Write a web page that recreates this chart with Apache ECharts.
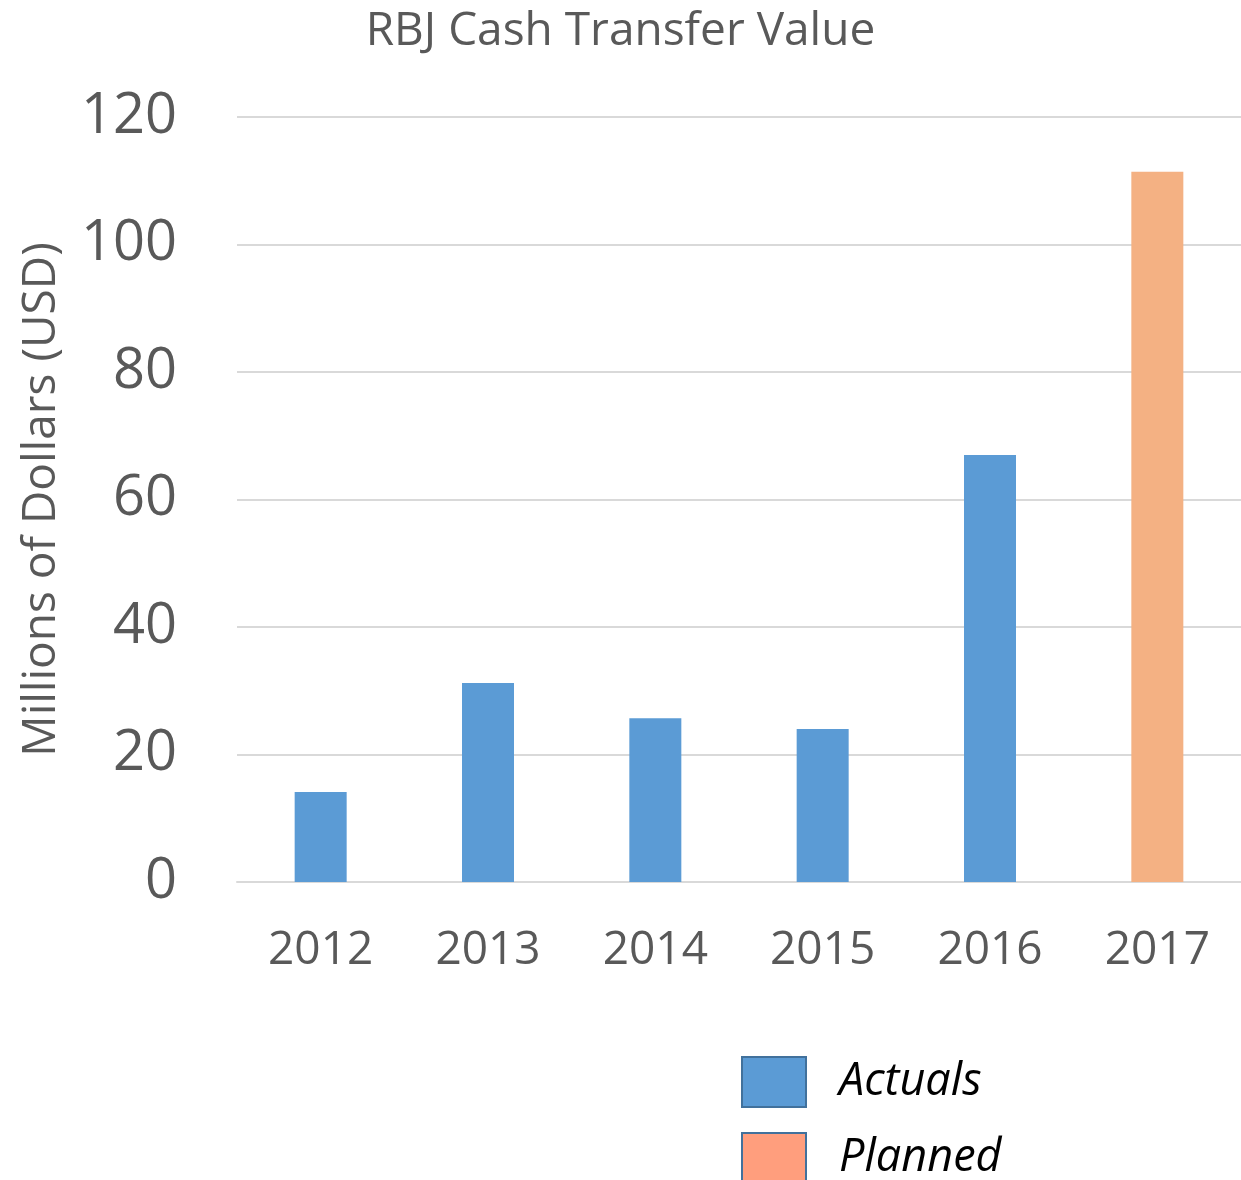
<!DOCTYPE html>
<html>
<head>
<meta charset="utf-8">
<script src="https://cdn.jsdelivr.net/npm/echarts@6/dist/echarts.min.js"></script>
<style>
  html, body { margin: 0; padding: 0; background: #fff; }
  #chart { width: 1241px; height: 1180px; }
</style>
</head>
<body>
<div id="chart"></div>
<script>
// data
const years = ["2012", "2013", "2014", "2015", "2016", "2017"];
const actuals = [14.1, 31.2, 25.7, 24.0, 67.0, null];
const planned = [null, null, null, null, null, 111.4];

const chart = echarts.init(document.getElementById("chart"));

const legendText = {
  fontFamily: "Open Sans, sans-serif",
  fontStyle: "italic",
  fontSize: 45,
  color: "#000",
  padding: [12, 0, 0, 28]
};

const option = {
  animation: false,
  title: {
    text: "RBJ Cash Transfer Value",
    left: "center",
    top: 4,
    textStyle: {
      fontFamily: "Liberation Sans Narrow, Open Sans, sans-serif",
      fontWeight: "normal",
      fontSize: 46,
      color: "#595959"
    }
  },
  legend: [
    {
      left: 736,
      top: 1051,
      icon: "rect",
      itemWidth: 64,
      itemHeight: 50,
      textStyle: legendText,
      data: [{ name: "Actuals", itemStyle: { color: "#5B9BD5", borderColor: "#41719C", borderWidth: 2 } }]
    },
    {
      left: 736,
      top: 1127,
      icon: "rect",
      itemWidth: 64,
      itemHeight: 50,
      textStyle: legendText,
      data: [{ name: "Planned", itemStyle: { color: "#FF9E7D", borderColor: "#41719C", borderWidth: 2 } }]
    }
  ],
  grid: {
    left: 237,
    right: 0,
    top: 117,
    bottom: 298,
    containLabel: false,
    outerBoundsMode: "none"
  },
  xAxis: {
    type: "category",
    data: years,
    axisLine: { lineStyle: { color: "#D9D9D9", width: 2 } },
    axisTick: { show: false },
    axisLabel: {
      margin: 46,
      fontFamily: "Open Sans, sans-serif",
      fontSize: 46,
      color: "#595959"
    }
  },
  yAxis: {
    type: "value",
    min: 0,
    max: 120,
    interval: 20,
    name: "Millions of Dollars (USD)",
    nameLocation: "middle",
    nameRotate: 90,
    nameGap: 172,
    nameTextStyle: {
      fontFamily: "Open Sans, sans-serif",
      fontSize: 46,
      color: "#595959"
    },
    axisLine: { show: false },
    axisTick: { show: false },
    axisLabel: {
      margin: 60,
      fontFamily: "Open Sans, sans-serif",
      fontSize: 56,
      color: "#595959"
    },
    splitLine: { lineStyle: { color: "#D9D9D9", width: 2 } }
  },
  series: [
    {
      name: "Actuals",
      type: "bar",
      stack: "total",
      barWidth: 52,
      itemStyle: { color: "#5B9BD5" },
      data: actuals
    },
    {
      name: "Planned",
      type: "bar",
      stack: "total",
      barWidth: 52,
      itemStyle: { color: "#F4B183" },
      data: planned
    }
  ]
};

chart.setOption(option);
</script>
</body>
</html>
